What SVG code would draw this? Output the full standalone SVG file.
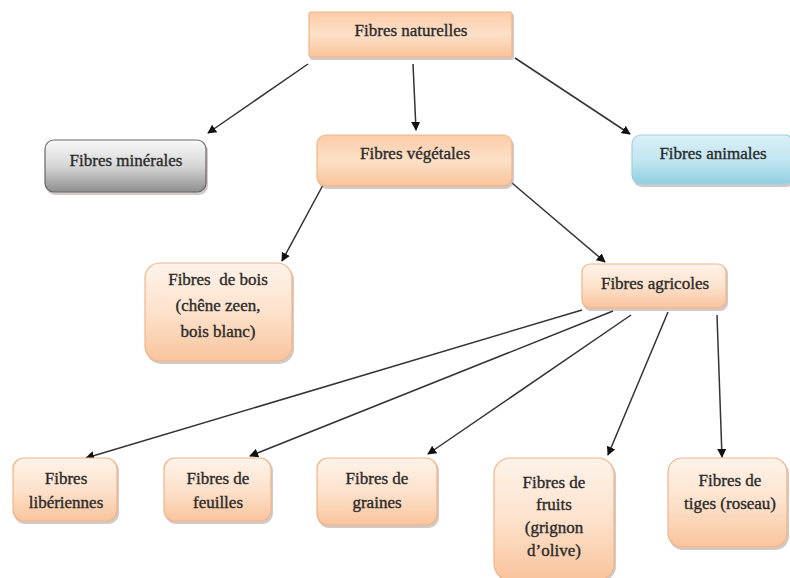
<svg xmlns="http://www.w3.org/2000/svg" width="790" height="578" viewBox="0 0 790 578">
<defs>
<linearGradient id="gOr" x1="0" y1="0" x2="0" y2="1">
<stop offset="0" stop-color="#fef3ea"/>
<stop offset="0.5" stop-color="#fde2cc"/>
<stop offset="1" stop-color="#f9c49d"/>
</linearGradient>
<linearGradient id="gOrTop" x1="0" y1="0" x2="0" y2="1">
<stop offset="0" stop-color="#fbcca8"/>
<stop offset="0.5" stop-color="#fde0c8"/>
<stop offset="1" stop-color="#f9c39a"/>
</linearGradient>
<linearGradient id="gGray" x1="0" y1="0" x2="0" y2="1">
<stop offset="0" stop-color="#fafafa"/>
<stop offset="0.5" stop-color="#d6d6d6"/>
<stop offset="1" stop-color="#8e8e8e"/>
</linearGradient>
<linearGradient id="gBlue" x1="0" y1="0" x2="0" y2="1">
<stop offset="0" stop-color="#d9f0f7"/>
<stop offset="0.5" stop-color="#c3e6f0"/>
<stop offset="1" stop-color="#8fcfe2"/>
</linearGradient>
<marker id="arr" viewBox="0 0 10 10" refX="9" refY="5" markerWidth="9" markerHeight="9" markerUnits="userSpaceOnUse" orient="auto">
<path d="M0,0 L10,5 L0,10 z" fill="#111"/>
</marker>
</defs>
<style>
.or{fill:url(#gOr);stroke:#f2b48a;stroke-width:1.2}
.ortop{fill:url(#gOrTop);stroke:#f2b48a;stroke-width:1.2}
.gr{fill:url(#gGray);stroke:#666;stroke-width:1.2}
.bl{fill:url(#gBlue);stroke:#9fd0e0;stroke-width:1.2}
.sh{fill:#9a8a80;opacity:0.45}
.t{font-family:"Liberation Serif","Times New Roman",serif;font-size:17px;fill:#2a2a2a;stroke:#2a2a2a;stroke-width:0.35;text-anchor:middle;white-space:pre}
.c{stroke:#333;stroke-width:1.5;fill:none;marker-end:url(#arr)}
</style>
<rect width="790" height="578" fill="#fff"/>

<g id="connectors">
<line class="c" x1="308" y1="64" x2="208" y2="133"/>
<line class="c" x1="413" y1="64" x2="416" y2="130"/>
<line class="c" x1="515" y1="58" x2="630" y2="134"/>
<line class="c" x1="323" y1="185" x2="282" y2="261"/>
<line class="c" x1="512" y1="183" x2="605" y2="262"/>
<line class="c" x1="582" y1="310" x2="86" y2="458"/>
<line class="c" x1="613" y1="311" x2="250" y2="456"/>
<line class="c" x1="631" y1="315" x2="428" y2="454"/>
<line class="c" x1="668" y1="312" x2="608" y2="455"/>
<line class="c" x1="717" y1="315" x2="722" y2="457"/>
</g>

<g id="n-naturelles">
<rect class="sh" x="310" y="14" width="204" height="46" rx="2"/>
<rect class="ortop" x="309" y="12" width="203" height="45" rx="2"/>
<text class="t" x="411" y="36">Fibres naturelles</text>
</g>

<g id="n-minerales">
<rect class="sh" x="46" y="142" width="162" height="53" rx="9"/>
<rect class="gr" x="45" y="140" width="161" height="52" rx="9"/>
<text class="t" x="126" y="166">Fibres minérales</text>
</g>

<g id="n-vegetales">
<rect class="sh" x="318" y="137" width="196" height="52" rx="9"/>
<rect class="ortop" x="317" y="135" width="195" height="51" rx="9"/>
<text class="t" x="415" y="159">Fibres végétales</text>
</g>

<g id="n-animales">
<rect class="sh" x="633" y="137" width="162" height="50" rx="9"/>
<rect class="bl" x="632" y="135" width="162" height="49" rx="9"/>
<text class="t" x="713" y="159">Fibres animales</text>
</g>

<g id="n-bois">
<rect class="sh" x="146" y="265" width="148" height="99" rx="15"/>
<rect class="or" x="145" y="263" width="147" height="98" rx="15"/>
<text class="t" x="218" y="285" xml:space="preserve">Fibres  de bois</text>
<text class="t" x="218" y="311">(chêne zeen,</text>
<text class="t" x="218" y="337">bois blanc)</text>
</g>

<g id="n-agricoles">
<rect class="sh" x="583" y="266" width="145" height="45" rx="8"/>
<rect class="or" x="582" y="264" width="144" height="44" rx="8"/>
<text class="t" x="655" y="289">Fibres agricoles</text>
</g>

<g id="n-liberiennes">
<rect class="sh" x="14" y="460" width="105" height="64" rx="11"/>
<rect class="or" x="13" y="458" width="104" height="63" rx="11"/>
<text class="t" x="66" y="484">Fibres</text>
<text class="t" x="66" y="508">libériennes</text>
</g>

<g id="n-feuilles">
<rect class="sh" x="165" y="460" width="108" height="64" rx="11"/>
<rect class="or" x="164" y="458" width="107" height="63" rx="11"/>
<text class="t" x="218" y="484">Fibres de</text>
<text class="t" x="218" y="508">feuilles</text>
</g>

<g id="n-graines">
<rect class="sh" x="318" y="460" width="121" height="68" rx="11"/>
<rect class="or" x="317" y="458" width="120" height="67" rx="11"/>
<text class="t" x="377" y="484">Fibres de</text>
<text class="t" x="377" y="508">graines</text>
</g>

<g id="n-fruits">
<rect class="sh" x="495" y="460" width="121" height="122" rx="16"/>
<rect class="or" x="494" y="458" width="120" height="122" rx="16"/>
<text class="t" x="554" y="488">Fibres de</text>
<text class="t" x="554" y="510">fruits</text>
<text class="t" x="554" y="533">(grignon</text>
<text class="t" x="554" y="556">d’olive)</text>
</g>

<g id="n-tiges">
<rect class="sh" x="669" y="460" width="120" height="90" rx="14"/>
<rect class="or" x="668" y="458" width="119" height="89" rx="14"/>
<text class="t" x="730" y="486">Fibres de</text>
<text class="t" x="730" y="509">tiges (roseau)</text>
</g>
</svg>
